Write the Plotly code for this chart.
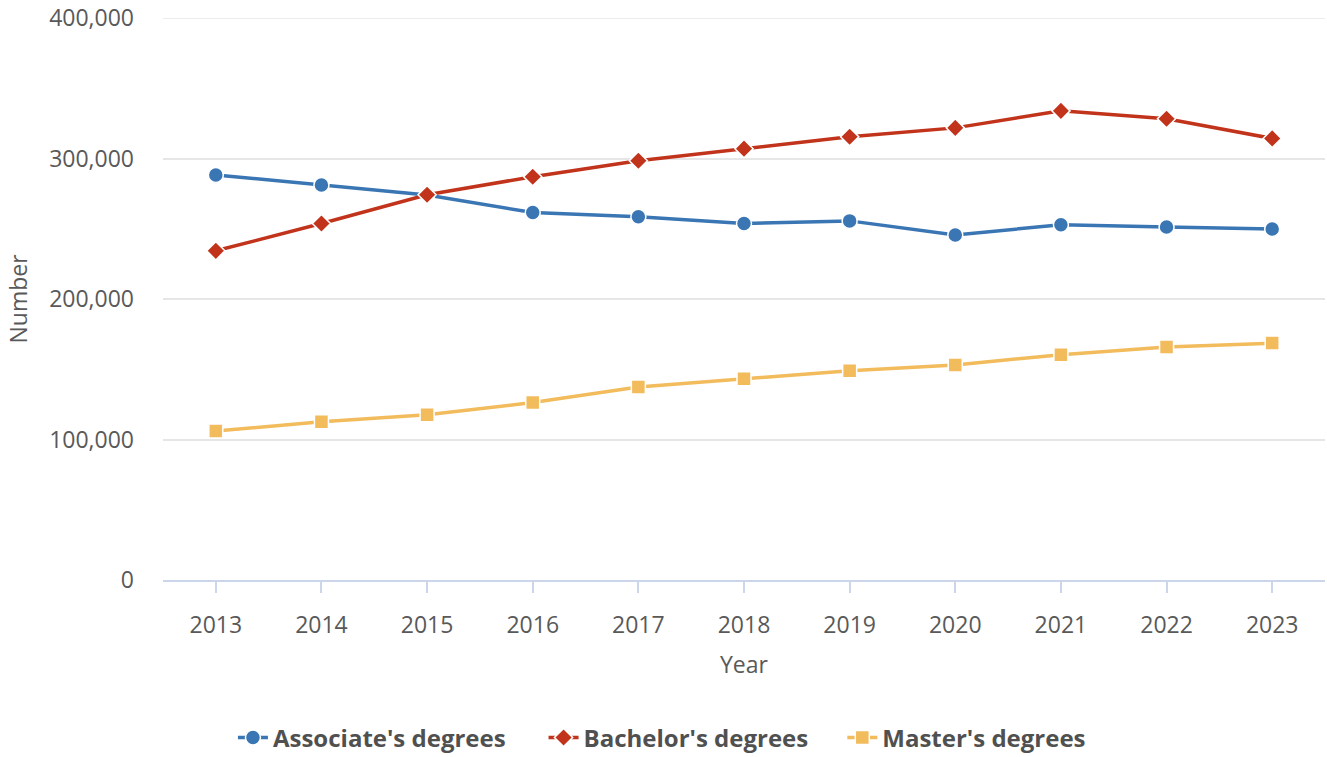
import plotly.graph_objects as go

years = ["2013", "2014", "2015", "2016", "2017", "2018", "2019", "2020", "2021", "2022", "2023"]
associate = [288300, 281100, 274000, 261500, 258600, 253700, 255600, 245500, 252900, 251200, 249800]
bachelor = [234300, 253700, 274200, 287000, 298400, 307000, 315500, 321800, 333900, 328300, 314300]
master = [106000, 112600, 117600, 126300, 137400, 143200, 148900, 153100, 160400, 165800, 168600]
y_ticks = [0, 100000, 200000, 300000, 400000]
y_tick_text = ["0", "100,000", "200,000", "300,000", "400,000"]

series_names = ["Associate's degrees", "Bachelor's degrees", "Master's degrees"]
colors = ["#3a76b4", "#c2331b", "#f2bb5c"]
symbols = ["circle", "diamond", "square"]
sizes = [15, 14, 14]
legend_ids = ["legend", "legend2", "legend3"]
legend_x = [0.0602, 0.3275, 0.5846]

fig = go.Figure()
for name, vals, c, s, sz, lg in zip(series_names, [associate, bachelor, master], colors, symbols, sizes, legend_ids):
    fig.add_trace(go.Scatter(
        x=years, y=vals, name=name, mode="lines+markers",
        line=dict(color=c, width=3.5),
        marker=dict(symbol=s, size=sz, color=c, line=dict(color="white", width=1.5)),
        legend=lg,
    ))

font_family = "Open Sans, Noto Sans, sans-serif"
legend_font = dict(size=24, color="#505050", family="Open Sans, sans-serif", weight="bold")
legend_common = dict(orientation="h", xanchor="left", y=-0.281, yanchor="middle",
                     font=legend_font, bgcolor="rgba(0,0,0,0)")

# top gridline (plotly omits the one on the range edge)
fig.add_shape(type="line", xref="paper", x0=0, x1=1, yref="y", y0=y_ticks[-1], y1=y_ticks[-1],
              line=dict(color="#e6e6e6", width=1.5), layer="below")

fig.update_layout(
    width=1327, height=757,
    margin=dict(l=163, r=2, t=18, b=177, autoexpand=False),
    plot_bgcolor="white", paper_bgcolor="white",
    font=dict(family=font_family, size=23, color="#595959"),
    showlegend=True,
    legend=dict(x=legend_x[0], **legend_common),
    legend2=dict(x=legend_x[1], **legend_common),
    legend3=dict(x=legend_x[2], **legend_common),
    xaxis=dict(
        type="category", range=[-0.5, 10.5], automargin=False,
        showgrid=False, showline=True, linecolor="#ccd6eb", linewidth=2,
        ticks="outside", ticklen=11, tickcolor="#ccd6eb", tickwidth=2,
        ticklabelstandoff=12,
        tickfont=dict(size=23, color="#595959"),
        title=dict(text="Year", font=dict(size=23, color="#595959"), standoff=18),
        zeroline=False,
    ),
    yaxis=dict(
        range=[0, 400000], automargin=False,
        tickvals=y_ticks, ticktext=y_tick_text,
        showgrid=True, gridcolor="#e6e6e6", gridwidth=1.5,
        showline=False, zeroline=False,
        ticks="", ticklabelstandoff=28, ticklabeloverflow="allow",
        tickfont=dict(size=23, color="#595959"),
        title=dict(text="Number", font=dict(size=23, color="#595959"), standoff=15),
    ),
)

fig.write_html(
    "out.html",
    config={"displayModeBar": False},
    post_script="document.body.style.margin='0';document.body.style.overflow='hidden';",
)
